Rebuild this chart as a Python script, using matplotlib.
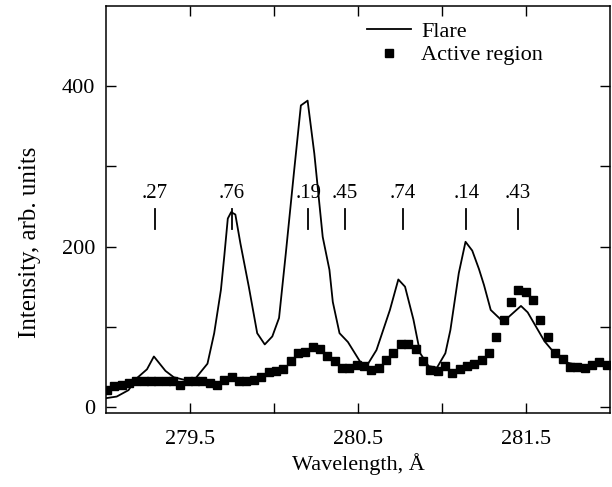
import matplotlib
matplotlib.use("Agg")
import matplotlib.pyplot as plt
from matplotlib.ticker import FixedLocator

plt.rcParams['font.family'] = ['Liberation Serif', 'DejaVu Serif']

# ---- data ----
flare_wl = [279.000, 279.064, 279.134, 279.184, 279.244, 279.285, 279.354, 279.404,
            279.464, 279.534, 279.604, 279.644, 279.684, 279.704, 279.725, 279.745,
            279.770, 279.800, 279.850, 279.900, 279.945, 279.990, 280.030, 280.070,
            280.120, 280.160, 280.200, 280.240, 280.290, 280.330, 280.350, 280.390,
            280.440, 280.520, 280.560, 280.610, 280.650, 280.690, 280.740, 280.780,
            280.830, 280.870, 280.920, 280.970, 281.020, 281.050, 281.100, 281.140,
            281.180, 281.220, 281.250, 281.290, 281.350, 281.390, 281.470, 281.510,
            281.560, 281.610, 281.650, 281.700, 281.750, 281.800, 281.850, 281.900,
            281.950, 282.000]
flare_int = [11, 13, 21, 36, 47, 63, 45, 37,
             34, 36, 54, 92, 146, 188, 235, 243,
             240, 204, 150, 92, 78, 88, 111, 191,
             295, 376, 382, 316, 212, 171, 131, 92,
             81, 54, 54, 71, 96, 121, 159, 150,
             109, 67, 51, 49, 67, 96, 167, 206,
             195, 172, 152, 121, 109, 111, 126, 118,
             100, 82, 72, 63, 55, 53, 51, 53,
             55, 53]

ar_wl = [279.005, 279.049, 279.093, 279.136, 279.180, 279.224, 279.268, 279.311,
         279.355, 279.399, 279.443, 279.486, 279.530, 279.574, 279.618, 279.661,
         279.705, 279.749, 279.793, 279.836, 279.880, 279.924, 279.968, 280.011,
         280.055, 280.099, 280.143, 280.186, 280.230, 280.274, 280.318, 280.361,
         280.405, 280.449, 280.493, 280.536, 280.580, 280.624, 280.668, 280.711,
         280.755, 280.799, 280.843, 280.886, 280.930, 280.974, 281.018, 281.061,
         281.105, 281.149, 281.193, 281.236, 281.280, 281.324, 281.368, 281.411,
         281.455, 281.499, 281.543, 281.586, 281.630, 281.674, 281.718, 281.761,
         281.805, 281.849, 281.893, 281.936, 281.980]
ar_int = [21, 26, 28, 30, 32, 32, 32, 33,
          33, 32, 28, 33, 33, 32, 30, 27,
          34, 38, 32, 32, 34, 38, 44, 45,
          47, 57, 67, 68, 75, 72, 63, 57,
          49, 48, 52, 51, 46, 49, 58, 67,
          79, 79, 72, 57, 46, 45, 51, 42,
          47, 51, 54, 58, 67, 87, 109, 131,
          146, 144, 133, 109, 87, 67, 60, 50,
          50, 49, 52, 56, 52]

line_labels = ['.27', '.76', '.19', '.45', '.74', '.14', '.43']
line_pos = [279.29, 279.75, 280.205, 280.42, 280.765, 281.145, 281.45]

x_major = [279.5, 280.5, 281.5]
x_minor = [280.0, 281.0]
y_ticks = [0, 100, 200, 300, 400]
y_labels = ['0', '', '200', '', '400']

# ---- figure ----
fig = plt.figure(figsize=(6.12, 4.87), dpi=100)
ax = fig.add_axes([106/612, (487-413)/487, 504/612, 407/487])

ax.plot(flare_wl, flare_int, color='black', lw=1.3, label='Flare', zorder=2)
ax.plot(ar_wl, ar_int, ls='none', marker='s', ms=5.8, color='black',
        label='Active region', zorder=3, clip_on=True)

for lab, pos in zip(line_labels, line_pos):
    ax.plot([pos, pos], [222, 247], color='black', lw=1.3)
    ax.text(pos, 260, lab, ha='center', va='baseline', fontsize=15)

ax.set_xlim(279.0, 282.0)
ax.set_ylim(-7.5, 500)
ax.xaxis.set_major_locator(FixedLocator(x_major))
ax.xaxis.set_minor_locator(FixedLocator(x_minor))
ax.set_xticklabels(['279.5', '280.5', '281.5'])
ax.set_yticks(y_ticks)
ax.set_yticklabels(y_labels)

ax.tick_params(which='both', direction='in', top=True, right=True,
               length=7, width=1.0, labelsize=16)
ax.tick_params(axis='x', pad=12)
ax.tick_params(axis='y', pad=8)
for s in ax.spines.values():
    s.set_linewidth(1.1)

ax.set_xlabel('Wavelength, Å', fontsize=16, labelpad=3)
ax.set_ylabel('Intensity, arb. units', fontsize=18)
ax.yaxis.set_label_coords(-0.128, 0.42)

ax.legend(loc='upper left', bbox_to_anchor=(0.5, 0.985), borderaxespad=0,
          frameon=False, fontsize=16, handlelength=2.0, handletextpad=0.45,
          labelspacing=0.15, markerscale=1.0)

fig.savefig('out.png', dpi=100)
